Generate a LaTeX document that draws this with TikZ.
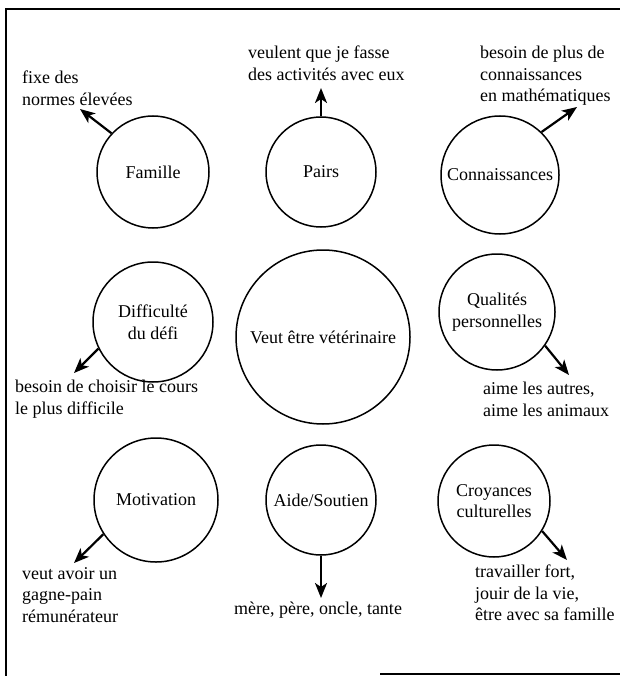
\documentclass[tikz,border=0pt]{standalone}
\usepackage{fontspec}
\setmainfont{Liberation Serif}
\usetikzlibrary{arrows.meta}
\newcommand\fs{\fontsize{18}{21.5}\selectfont}
\tikzset{
  bubble/.style={circle, draw, line width=1.5pt, inner sep=0pt, align=center, font=\fs},
  note/.style={align=left, inner sep=0pt, font=\fs, anchor=north west},
  pointer/.style={line width=2.2pt, -{Stealth[length=15pt,width=12pt,inset=4pt]}},
  frameline/.style={line width=1.8pt},
}
\begin{document}
\begin{tikzpicture}[x=1pt,y=-1pt]
\useasboundingbox (0,0) rectangle (620,676);
% frame
\draw[frameline] (6,676) -- (6,9) -- (620,9);
\draw[frameline] (380,674) -- (620,674);
% circles
\node[bubble, minimum size=112pt] (fam) at (153,172) {Famille};
\node[bubble, minimum size=110pt] (pairs) at (321,172) {Pairs};
\node[bubble, minimum size=118pt] (con) at (500,175) {Connaissances};
\node[bubble, minimum size=120pt] (dif) at (153,322) {Difficulté\\du défi};
\node[bubble, minimum size=174pt] (vet) at (323,337) {Veut être vétérinaire};
\node[bubble, minimum size=116pt] (qual) at (497,312) {Qualités\\personnelles};
\node[bubble, minimum size=124pt] (mot) at (156,500) {Motivation};
\node[bubble, minimum size=110pt] (aide) at (321,500) {Aide/Soutien};
\node[bubble, minimum size=112pt] (croy) at (494,501) {Croyances\\culturelles};
% notes
\node[note] (famn) at (22,71) {fixe des\\normes élevées};
\node[note] (pairsn) at (248,46) {veulent que je fasse\\des activités avec eux};
\node[note] (conn) at (480,46) {besoin de plus de\\connaissances\\en mathématiques};
\node[note] (difn) at (15,380) {besoin de choisir le cours\\le plus difficile};
\node[note] (qualn) at (483,382) {aime les autres,\\aime les animaux};
\node[note] (motn) at (22,567) {veut avoir un\\gagne-pain\\rémunérateur};
\node[note, anchor=north] (aiden) at (318,602) {mère, père, oncle, tante};
\node[note] (croyn) at (475,565) {travailler fort,\\jouir de la vie,\\être avec sa famille};
% arrow tips
\coordinate (famt) at (80,109);
\coordinate (pairst) at (321,88);
\coordinate (cont) at (577,107);
\coordinate (dift) at (74,373);
\coordinate (qualt) at (569,375);
\coordinate (mott) at (74,563);
\coordinate (aidet) at (321,598);
\coordinate (croyt) at (567,560);
% arrows
\draw[pointer] (fam.137) -- (famt);
\draw[pointer] (pairs.90) -- (pairst);
\draw[pointer] (con.46) -- (cont);
\draw[pointer] (dif.206) -- (dift);
\draw[pointer] (qual.-35) -- (qualt);
\draw[pointer] (mot.213) -- (mott);
\draw[pointer] (aide.270) -- (aidet);
\draw[pointer] (croy.-32) -- (croyt);
\end{tikzpicture}
\end{document}
